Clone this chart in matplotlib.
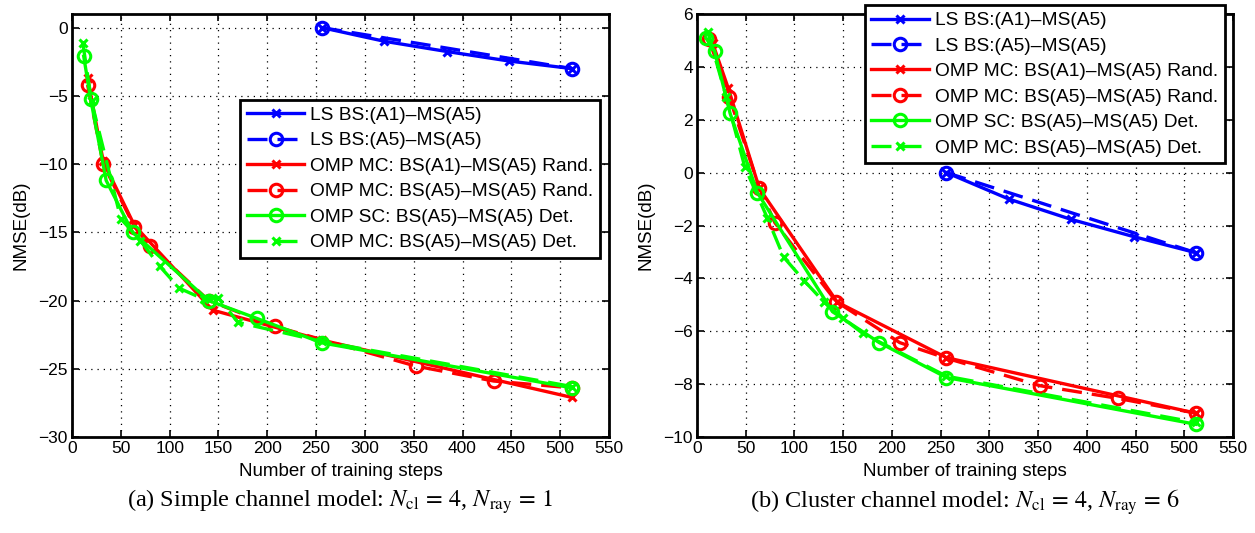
import numpy as np
from matplotlib import pyplot as plt

plt.rcParams['font.family'] = ['Liberation Sans', 'DejaVu Sans']
plt.rcParams['mathtext.fontset'] = 'stix'

labels = ["LS BS:(A1)\u2013MS(A5)",
          "LS BS:(A5)\u2013MS(A5)",
          "OMP MC: BS(A1)\u2013MS(A5) Rand.",
          "OMP MC: BS(A5)\u2013MS(A5) Rand.",
          "OMP SC: BS(A5)\u2013MS(A5) Det.",
          "OMP MC: BS(A5)\u2013MS(A5) Det."]

# panel (a): simple channel model
a_ls1_x = [256, 320, 384, 448, 512]
a_ls1_y = [0.0, -1.0, -1.75, -2.45, -3.0]
a_ls5_x = [256, 512]
a_ls5_y = [0.0, -3.0]
a_mc1r_x = [16, 32, 64, 144, 256, 512]
a_mc1r_y = [-3.7, -9.8, -14.5, -20.7, -22.9, -27.1]
a_mc5r_x = [16, 32, 64, 80, 140, 208, 352, 432, 512]
a_mc5r_y = [-4.2, -10.0, -14.6, -16.0, -20.0, -21.9, -24.8, -25.9, -26.4]
a_sc5d_x = [12, 19, 35, 62, 140, 189, 256, 512]
a_sc5d_y = [-2.1, -5.2, -11.2, -15.0, -20.0, -21.3, -23.1, -26.4]
a_mc5d_x = [11, 20, 50, 70, 90, 110, 135, 150, 170, 256, 512]
a_mc5d_y = [-1.1, -5.4, -14.0, -15.6, -17.5, -19.1, -19.9, -19.8, -21.6, -23.0, -26.3]

# panel (b): cluster channel model
b_ls1_x = [256, 320, 384, 448, 512]
b_ls1_y = [0.0, -1.0, -1.77, -2.42, -3.03]
b_ls5_x = [256, 512]
b_ls5_y = [0.0, -3.03]
b_mc1r_x = [16, 32, 64, 144, 256, 512]
b_mc1r_y = [4.9, 3.2, -0.6, -4.9, -7.0, -9.1]
b_mc5r_x = [12, 33, 64, 80, 143, 208, 256, 352, 432, 512]
b_mc5r_y = [5.05, 2.87, -0.58, -1.9, -4.88, -6.43, -7.02, -8.06, -8.54, -9.1]
b_sc5d_x = [9, 18, 34, 62, 139, 187, 256, 512]
b_sc5d_y = [5.1, 4.6, 2.24, -0.76, -5.26, -6.43, -7.75, -9.52]
b_mc5d_x = [11, 30, 49, 72, 89, 110, 130, 150, 170, 256, 512]
b_mc5d_y = [5.33, 2.87, 0.22, -1.7, -3.2, -4.09, -4.88, -5.51, -6.08, -7.7, -9.45]

dash = (0, (6, 3))
styles = [dict(color='#0000ff', ls='-', marker='x', ms=6),
          dict(color='#0000ff', ls=dash, marker='o', mfc='none', ms=9),
          dict(color='#ff0000', ls='-', marker='x', ms=6),
          dict(color='#ff0000', ls=dash, marker='o', mfc='none', ms=9),
          dict(color='#00ff00', ls='-', marker='o', mfc='none', ms=9),
          dict(color='#00ff00', ls=dash, marker='x', ms=6)]

fig = plt.figure(figsize=(12.55, 5.33), dpi=100)
ax1 = fig.add_axes([72/1255, 1-437/533, 537/1255, 423/533])
ax2 = fig.add_axes([697/1255, 1-437/533, 536/1255, 423/533])

panels = [
    (ax1, [(a_ls1_x, a_ls1_y), (a_ls5_x, a_ls5_y), (a_mc1r_x, a_mc1r_y),
           (a_mc5r_x, a_mc5r_y), (a_sc5d_x, a_sc5d_y), (a_mc5d_x, a_mc5d_y)],
     (-30, 1), np.arange(-30, 1, 5), (0.313, 0.797)),
    (ax2, [(b_ls1_x, b_ls1_y), (b_ls5_x, b_ls5_y), (b_mc1r_x, b_mc1r_y),
           (b_mc5r_x, b_mc5r_y), (b_sc5d_x, b_sc5d_y), (b_mc5d_x, b_mc5d_y)],
     (-10, 6), np.arange(-10, 7, 2), (0.313, 1.021)),
]

for ax, series, ylim, yticks, legpos in panels:
    for (x, y), st, lab in zip(series, styles, labels):
        ax.plot(x, y, lw=2.4, mew=2.2, label=lab, **st)
    ax.set_xlim(0, 550)
    ax.set_ylim(*ylim)
    ax.set_xticks(np.arange(0, 551, 50))
    ax.set_yticks(yticks)
    ax.grid(True, ls=(0, (1, 4)), color='black', lw=0.9)
    ax.tick_params(direction='in', top=True, right=True, labelsize=12.5,
                   length=5, width=1.2, pad=3)
    for sp in ax.spines.values():
        sp.set_linewidth(2)
    ax.set_xlabel("Number of training steps", fontsize=13.5, labelpad=5)
    ax.set_ylabel("NMSE(dB)", fontsize=13.5, labelpad=6)
    leg = ax.legend(loc='upper left', bbox_to_anchor=legpos, fontsize=13.8,
                    fancybox=False, framealpha=1, edgecolor='black',
                    handlelength=3, borderpad=0.35, labelspacing=0.42,
                    handletextpad=0.3, borderaxespad=0)
    leg.get_frame().set_linewidth(2)

cap_font = ['Liberation Serif', 'DejaVu Serif']
fig.text(340/1255, 1-502/533, r"(a) Simple channel model: $N_{\rm cl}\,=\,4$, $N_{\rm ray}\,=\,1$",
         ha='center', va='center', fontsize=17.5, family=cap_font)
fig.text(965/1255, 1-502/533, r"(b) Cluster channel model: $N_{\rm cl}\,=\,4$, $N_{\rm ray}\,=\,6$",
         ha='center', va='center', fontsize=17.5, family=cap_font)

fig.savefig("out.png", dpi=100)
